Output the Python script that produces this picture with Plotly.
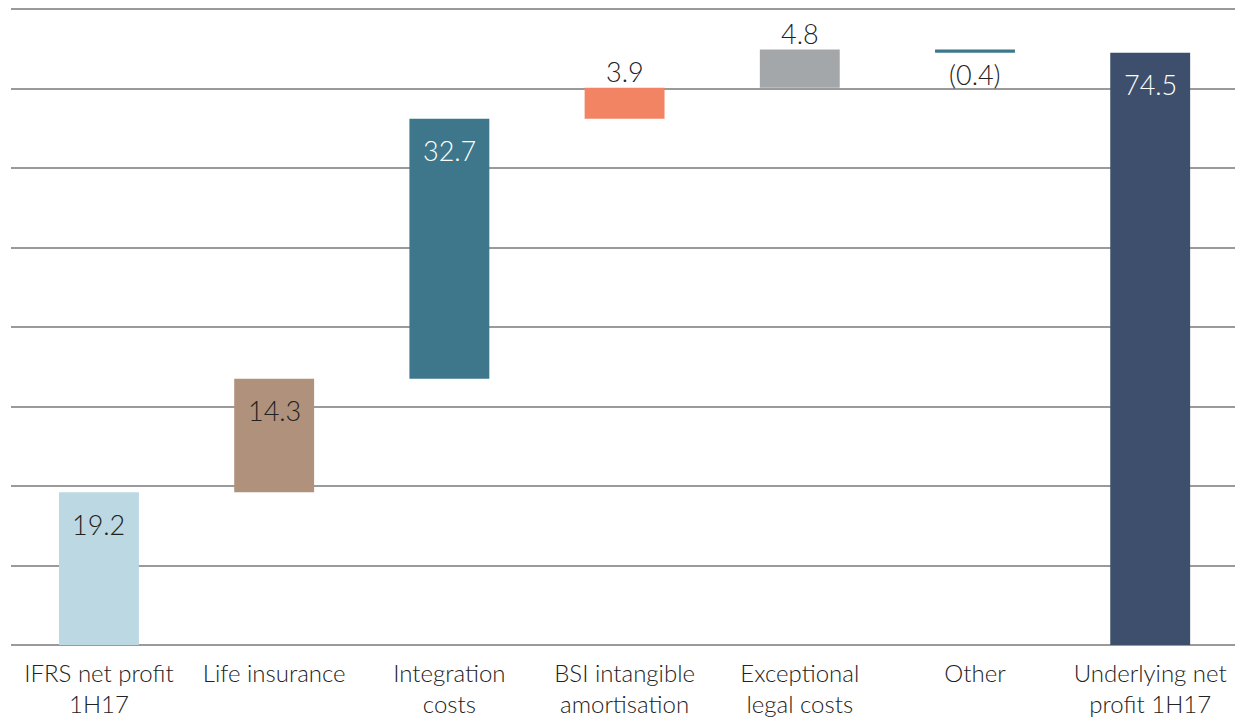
import plotly.graph_objects as go

categories = ["IFRS net profit<br>1H17", "Life insurance", "Integration<br>costs",
              "BSI intangible<br>amortisation", "Exceptional<br>legal costs", "Other",
              "Underlying net<br>profit 1H17"]
deltas = [19.2, 14.3, 32.7, 3.9, 4.8, -0.4, 74.5]
is_total = [False, False, False, False, False, False, True]
labels = ["19.2", "14.3", "32.7", "3.9", "4.8", "(0.4)", "74.5"]
colors = ["#bcd8e2", "#b0917b", "#3e778b", "#f28363", "#a3a7aa", "#3e778b", "#3d4f6d"]
label_colors = ["#222222", "#222222", "#ffffff", "#222222", "#222222", "#222222", "#ffffff"]
label_pos = ["inside", "inside", "inside", "above", "above", "below", "inside"]

bases = []
running = 0.0
for d, t in zip(deltas, is_total):
    if t:
        bases.append(0.0)
    else:
        bases.append(running)
        running += d

fig = go.Figure()
fig.add_trace(go.Bar(
    x=categories, y=deltas, base=bases,
    marker=dict(color=colors, line=dict(width=0)),
    width=0.456, hoverinfo="skip", showlegend=False,
))

font_family = "Lato, Noto Sans, sans-serif"
for i, cat in enumerate(categories):
    top = bases[i] + max(deltas[i], 0)
    bottom = bases[i] + min(deltas[i], 0)
    pos = label_pos[i]
    if pos == "inside":
        y, shift = top, -32
    elif pos == "above":
        y, shift = top, 16
    else:
        y, shift = bottom, -22
    fig.add_annotation(x=cat, y=y, yshift=shift, text=labels[i], showarrow=False,
                       font=dict(size=27, color=label_colors[i], family=font_family,
                                 weight=300),
                       xanchor="center", yanchor="middle")

fig.update_layout(
    width=1235, height=717,
    margin=dict(l=11, r=0, t=8, b=72),
    plot_bgcolor="white", paper_bgcolor="white",
    bargap=0.544,
    font=dict(family=font_family, color="#222222", weight=300),
    xaxis=dict(showgrid=False, showline=False, ticks="", ticklabelstandoff=12,
               automargin=False, range=[-0.502, 6.484],
               tickfont=dict(size=24, color="#222222", weight=300)),
    yaxis=dict(range=[0, 80.13], tickvals=[0, 10, 20, 30, 40, 50, 60, 70, 80],
               showgrid=True, gridcolor="#9a9a9a", automargin=False,
               gridwidth=1.5, showticklabels=False, zeroline=True,
               zerolinecolor="#9a9a9a", zerolinewidth=1.5, showline=False),
)

fig.write_html("out.html", config={"displayModeBar": False},
               post_script="document.body.style.margin='0px';document.body.style.overflow='hidden';")
